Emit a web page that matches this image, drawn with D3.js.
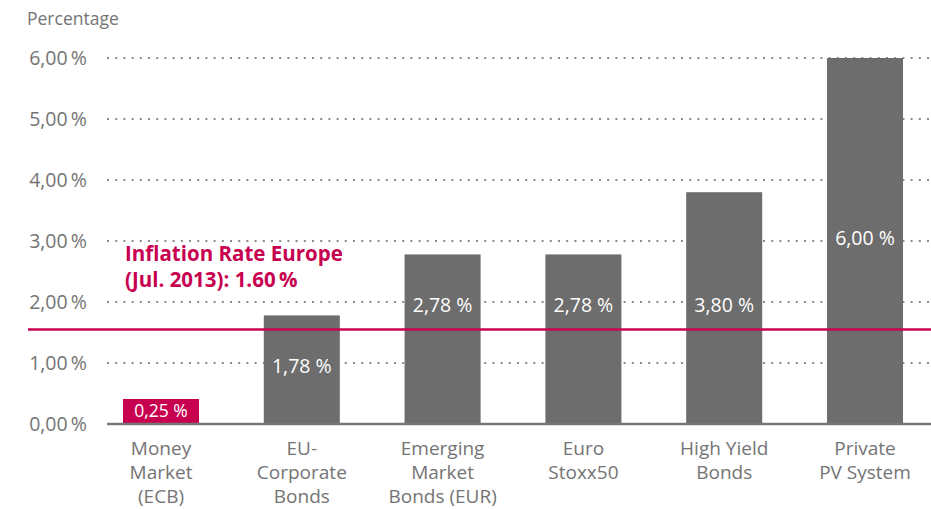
<!DOCTYPE html>
<html lang="en">
<head>
    <meta charset="UTF-8">
    <title>Returns vs inflation</title>
    <script src="https://d3js.org/d3.v7.min.js"></script>
    <style>
        body { margin: 0; background: #fff; }
        text { font-family: "Open Sans", "Noto Sans", sans-serif; }
        .tick-label { fill: #747474; font-size: 19.5px; }
        .cat-label { fill: #747474; font-size: 19px; }
        .bar-label { fill: #fff; font-size: 19.5px; }
        .grid { stroke: #8a8a8a; stroke-width: 2; stroke-dasharray: 2 6.2; }
    </style>
</head>
<body>
<script>
    const width  = 931;
    const height = 509;

    // data
    const categories = [
        ["Money", "Market", "(ECB)"],
        ["EU-", "Corporate", "Bonds"],
        ["Emerging", "Market", "Bonds (EUR)"],
        ["Euro", "Stoxx50"],
        ["High Yield", "Bonds"],
        ["Private", "PV System"]
    ];
    const returns    = [0.25, 1.78, 2.78, 2.78, 3.80, 6.00];
    const yTicks     = [0, 1, 2, 3, 4, 5, 6];
    const inflation  = 1.60;
    const inflationText = ["Inflation Rate Europe", "(Jul. 2013): 1.60\u2009%"];

    const gray = "#6d6d6d";
    const red  = "#c80050";

    const fmt = v => d3.format(".2f")(v).replace(".", ",");

    const x = d3.scaleBand()
                .domain(d3.range(categories.length))
                .range([90.6, 935.4])
                .paddingInner(0.46)
                .paddingOuter(0.23);

    const y = d3.scaleLinear().domain([0, 6]).range([424, 58]);

    const svg = d3.select("body").append("svg")
                  .attr("width", width).attr("height", height);

    svg.append("text").attr("class", "tick-label")
       .attr("x", 27).attr("y", 25).style("font-size", "17.5px")
       .text("Percentage");

    // dotted grid
    svg.selectAll("line.grid")
       .data(yTicks.filter(d => d > 0))
       .join("line").attr("class", "grid")
       .attr("x1", 107).attr("x2", width)
       .attr("y1", d => y(d)).attr("y2", d => y(d));

    svg.selectAll("text.ytick")
       .data(yTicks)
       .join("text").attr("class", "tick-label ytick")
       .attr("x", 87).attr("y", d => y(d) + 7)
       .attr("text-anchor", "end")
       .text(d => fmt(d) + "\u2009%");

    const data = returns.map((v, i) => ({i, v}));

    // bars (the tiny first one is shown as a red tag big enough for its label)
    svg.selectAll("rect.bar")
       .data(data)
       .join("rect").attr("class", "bar")
       .attr("x", d => x(d.i))
       .attr("width", x.bandwidth())
       .attr("y", d => Math.min(y(d.v), y(0) - 25))
       .attr("height", d => y(0) - Math.min(y(d.v), y(0) - 25))
       .attr("fill", d => d.v < inflation / 2 ? red : gray);

    // baseline
    svg.append("line")
       .attr("x1", 107).attr("x2", width)
       .attr("y1", y(0)).attr("y2", y(0))
       .attr("stroke", "#777").attr("stroke-width", 2.5);

    // inflation line
    svg.append("line")
       .attr("x1", 28).attr("x2", width)
       .attr("y1", y(inflation) + 3).attr("y2", y(inflation) + 3)
       .attr("stroke", red).attr("stroke-width", 2.5);

    svg.selectAll("text.infl")
       .data(inflationText)
       .join("text").attr("class", "infl")
       .attr("x", 125).attr("y", (d, i) => 261 + i * 26)
       .attr("fill", red)
       .style("font-size", "20.5px").style("font-weight", "bold")
       .text(d => d);

    // labels inside bars
    svg.selectAll("text.bar-label")
       .data(data)
       .join("text").attr("class", "bar-label")
       .attr("x", d => x(d.i) + x.bandwidth() / 2)
       .attr("y", d => {
           if (d.v < inflation / 2) return y(0) - 7;
           if (d.v >= 3) return y(d.v / 2) + 4;
           return y(d.v) + 58;
       })
       .attr("text-anchor", "middle")
       .style("font-size", d => d.v < inflation / 2 ? "17.5px" : null)
       .text(d => fmt(d.v) + " %");

    // category labels
    const cat = svg.selectAll("text.cat-label")
       .data(categories)
       .join("text").attr("class", "cat-label")
       .attr("text-anchor", "middle")
       .attr("transform", (d, i) => `translate(${x(i) + x.bandwidth() / 2},0)`);
    cat.selectAll("tspan")
       .data(d => d)
       .join("tspan")
       .attr("x", 0)
       .attr("y", (d, j) => 455 + j * 24)
       .text(d => d);
</script>
</body>
</html>
